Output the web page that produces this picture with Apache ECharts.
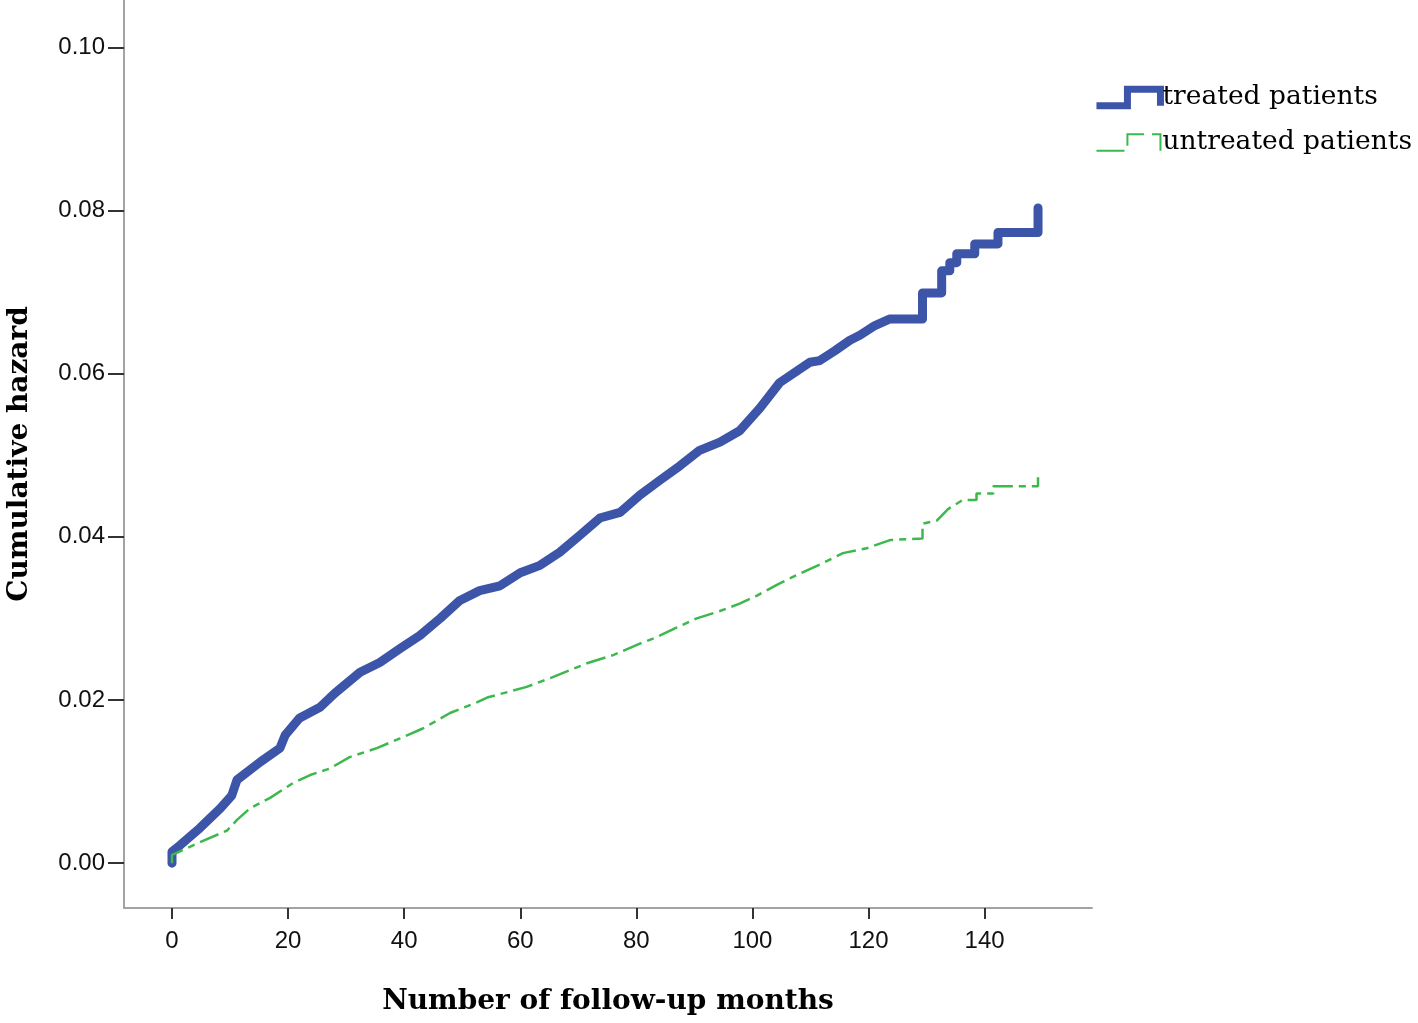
<!DOCTYPE html>
<html lang="en">
<head>
  <meta charset="UTF-8">
  <title>Cumulative hazard</title>
  <style>
    html, body { margin: 0; padding: 0; background: #fff; }
    #chart { width: 1418px; height: 1023px; }
  </style>
</head>
<body>
  <div id="chart"></div>
  <script src="https://cdn.jsdelivr.net/npm/echarts@6/dist/echarts.min.js"></script>
  <script>
    // values (months, cumulative hazard)
    // a repeated month marks a visible vertical jump of the step curve
    const treatedMonths = [0, 0, 1.4, 4.8, 8.3, 10.3, 11.2, 15.2, 18.6, 19.5, 22.0, 25.5, 28.0, 32.4, 35.8, 39.3,
      42.7, 46.2, 49.6, 53.0, 56.5, 60.0, 63.4, 66.8, 70.3, 73.7, 77.2, 80.6, 84.0, 87.5, 90.9, 94.4, 97.8,
      101.3, 104.7, 109.9, 111.6, 114.2, 116.8, 118.5, 121.1, 123.7, 129.3, 129.3, 132.6, 132.6, 134.0, 134.0,
      135.2, 135.2, 138.3, 138.3, 142.3, 142.3, 149.2, 149.2];
    const treatedHazard = [0.0000, 0.0014, 0.0022, 0.0043, 0.0067, 0.0083, 0.0102, 0.0124, 0.0141, 0.0157, 0.0178,
      0.0191, 0.0208, 0.0234, 0.0246, 0.0263, 0.0279, 0.0300, 0.0322, 0.0334, 0.0340, 0.0356, 0.0365, 0.0381,
      0.0402, 0.0423, 0.0430, 0.0451, 0.0469, 0.0487, 0.0506, 0.0516, 0.0530, 0.0558, 0.0589, 0.0614, 0.0616,
      0.0628, 0.0641, 0.0647, 0.0659, 0.0667, 0.0667, 0.0699, 0.0699, 0.0726, 0.0726, 0.0736, 0.0736, 0.0747,
      0.0747, 0.0759, 0.0759, 0.0773, 0.0773, 0.0803];

    const untreatedMonths = [0, 0, 4.3, 9.5, 11.2, 13.4, 16.9, 20.8, 23.8, 27.2, 30.6, 35.3, 39.3, 43.2, 47.9,
      52.5, 54.3, 61.1, 65.6, 71.5, 76.0, 80.6, 83.5, 87.0, 90.4, 94.4, 97.8, 100.8, 104.7, 108.2, 111.6, 115.6,
      119.7, 123.7, 129.3, 129.3, 131.8, 133.7, 136.2, 138.6, 138.6, 141.5, 141.5, 149.2, 149.2];
    const untreatedHazard = [0.0000, 0.0010, 0.0024, 0.0040, 0.0053, 0.0067, 0.0080, 0.0098, 0.0108, 0.0116, 0.0130,
      0.0141, 0.0153, 0.0165, 0.0184, 0.0197, 0.0203, 0.0216, 0.0228, 0.0245, 0.0255, 0.0269, 0.0277, 0.0289,
      0.0300, 0.0309, 0.0318, 0.0328, 0.0343, 0.0355, 0.0366, 0.0380, 0.0386, 0.0396, 0.0398, 0.0416, 0.0420,
      0.0434, 0.0445, 0.0445, 0.0453, 0.0453, 0.0462, 0.0462, 0.0473];

    const xTicks = [0, 20, 40, 60, 80, 100, 120, 140];
    const yTicks = [0, 0.02, 0.04, 0.06, 0.08, 0.10];

    const zip = (xs, ys) => xs.map((x, i) => [x, ys[i]]);

    const blue = '#3d55a8';
    const green = '#3cb84c';
    const axisGray = '#a3a3a3';
    const stepIcon = 'path://M0,18 L30,18 L30,2 L62,2 L62,18';

    const chart = echarts.init(document.getElementById('chart'));
    chart.setOption({
      animation: false,
      grid: { left: 124, right: 326, top: 0, bottom: 115, outerBoundsMode: 'none' },
      legend: {
        right: 1,
        top: 79,
        orient: 'vertical',
        itemGap: 18,
        itemWidth: 64,
        itemHeight: 18,
        textStyle: { fontFamily: 'DejaVu Serif', fontSize: 26.5, color: '#000', padding: [0, 0, 0, -3] },
        data: [
          {
            name: 'treated patients',
            icon: stepIcon,
            itemStyle: { color: 'none', borderColor: blue, borderWidth: 7 }
          },
          {
            name: 'untreated patients',
            icon: stepIcon,
            itemStyle: { color: 'none', borderColor: green, borderWidth: 2, borderType: [28, 8] }
          }
        ]
      },
      xAxis: {
        type: 'value',
        min: -8.27,
        max: 158.5,
        name: 'Number of follow-up months',
        nameLocation: 'middle',
        nameGap: 80,
        nameTextStyle: { fontFamily: 'DejaVu Serif', fontWeight: 'bold', fontSize: 28, color: '#000' },
        axisLine: { onZero: false, lineStyle: { color: axisGray, width: 2 } },
        axisTick: { customValues: xTicks, length: 11, lineStyle: { color: '#333', width: 2 } },
        axisLabel: { customValues: xTicks, fontFamily: 'Liberation Sans', fontSize: 24, color: '#111', margin: 21 },
        splitLine: { show: false }
      },
      yAxis: {
        type: 'value',
        min: -0.0055,
        max: 0.1058,
        name: 'Cumulative hazard',
        nameLocation: 'middle',
        nameGap: 90,
        nameTextStyle: { fontFamily: 'DejaVu Serif', fontWeight: 'bold', fontSize: 28, color: '#000' },
        axisLine: { onZero: false, lineStyle: { color: axisGray, width: 2 } },
        axisTick: { customValues: yTicks, length: 16, lineStyle: { color: '#333', width: 2 } },
        axisLabel: {
          customValues: yTicks,
          fontFamily: 'Liberation Sans', fontSize: 24, color: '#111', margin: 19,
          formatter: v => v.toFixed(2)
        },
        splitLine: { show: false }
      },
      series: [
        {
          name: 'untreated patients',
          type: 'line',
          symbol: 'none',
          data: zip(untreatedMonths, untreatedHazard),
          lineStyle: { color: green, width: 2.5, type: [20, 6, 7, 6] },
          itemStyle: { color: green },
          z: 3
        },
        {
          name: 'treated patients',
          type: 'line',
          symbol: 'none',
          data: zip(treatedMonths, treatedHazard),
          lineStyle: { color: blue, width: 9, cap: 'round', join: 'round' },
          itemStyle: { color: blue },
          z: 2
        }
      ]
    });
  </script>
</body>
</html>
